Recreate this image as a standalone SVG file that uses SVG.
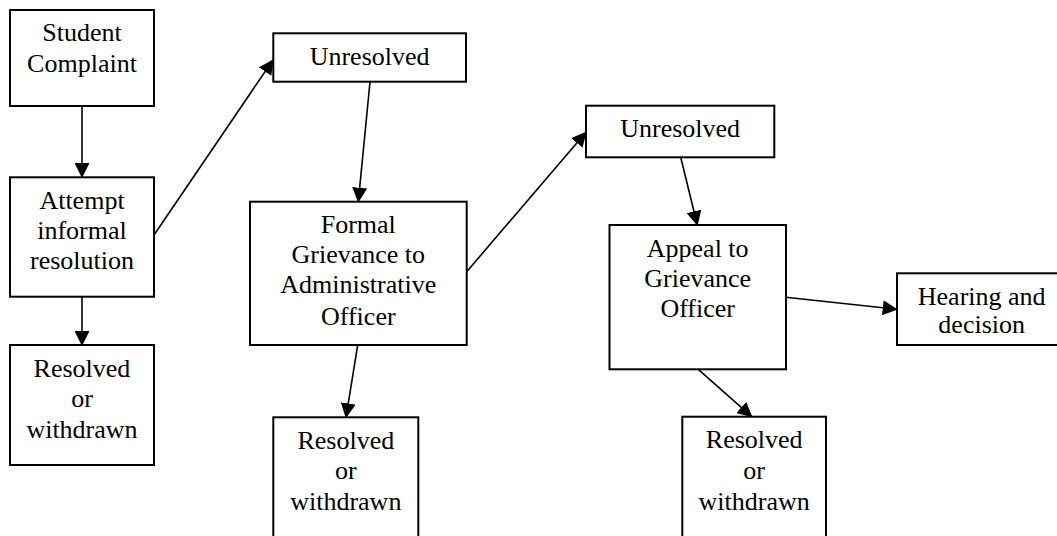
<svg xmlns="http://www.w3.org/2000/svg" width="1057" height="536" viewBox="0 0 1057 536">
<style>
.box{fill:#fff;stroke:#000;stroke-width:2}
.t{font-family:"Liberation Serif","Times New Roman",serif;font-size:26px;fill:#000;text-anchor:middle}
.c{stroke:#000;stroke-width:1.6;fill:none;marker-end:url(#ah)}
</style>
<defs>
<marker id="ah" markerUnits="userSpaceOnUse" markerWidth="15" markerHeight="15" refX="14" refY="7.5" orient="auto">
<path d="M0,0 L15,7.5 L0,15 z" fill="#000"/>
</marker>
</defs>
<rect width="1057" height="536" fill="#fff"/>
<g id="connectors">
<line class="c" x1="82" y1="106" x2="82" y2="177"/>
<line class="c" x1="82" y1="297" x2="82" y2="345"/>
<line class="c" x1="154" y1="235" x2="273" y2="60"/>
<line class="c" x1="370" y1="82" x2="358.3" y2="201.7"/>
<line class="c" x1="466.7" y1="271.7" x2="586" y2="132.3"/>
<line class="c" x1="680.7" y1="157.3" x2="697.3" y2="225"/>
<line class="c" x1="785.7" y1="297.3" x2="896.7" y2="309.3"/>
<line class="c" x1="698.3" y1="369.3" x2="751.7" y2="416.7"/>
<line class="c" x1="357.7" y1="345" x2="346" y2="417.3"/>
</g>
<g id="student-complaint">
<rect class="box" x="10" y="10" width="144" height="96"/>
<text class="t" x="82" y="40.7">Student</text>
<text class="t" x="82" y="71.7">Complaint</text>
</g>
<g id="attempt-informal">
<rect class="box" x="10" y="177.3" width="144" height="119.4"/>
<text class="t" x="82" y="209.3">Attempt</text>
<text class="t" x="82" y="239">informal</text>
<text class="t" x="82" y="269.3">resolution</text>
</g>
<g id="resolved-1">
<rect class="box" x="10" y="345" width="144" height="120"/>
<text class="t" x="82" y="376.7">Resolved</text>
<text class="t" x="82" y="407">or</text>
<text class="t" x="82" y="438">withdrawn</text>
</g>
<g id="unresolved-1">
<rect class="box" x="273.3" y="33.3" width="192.7" height="48.4"/>
<text class="t" x="369.6" y="65">Unresolved</text>
</g>
<g id="formal-grievance">
<rect class="box" x="250" y="201.7" width="216.7" height="143.3"/>
<text class="t" x="358.3" y="233.3">Formal</text>
<text class="t" x="358.3" y="262.7">Grievance to</text>
<text class="t" x="358.3" y="293.3">Administrative</text>
<text class="t" x="358.3" y="325">Officer</text>
</g>
<g id="resolved-2">
<rect class="box" x="273.3" y="417.3" width="145" height="150"/>
<text class="t" x="345.8" y="449">Resolved</text>
<text class="t" x="345.8" y="479">or</text>
<text class="t" x="345.8" y="510">withdrawn</text>
</g>
<g id="unresolved-2">
<rect class="box" x="586" y="105.7" width="188.3" height="51.6"/>
<text class="t" x="680.2" y="136.7">Unresolved</text>
</g>
<g id="appeal">
<rect class="box" x="609.5" y="225" width="176.5" height="144.3"/>
<text class="t" x="697.7" y="256.7">Appeal to</text>
<text class="t" x="697.7" y="286.7">Grievance</text>
<text class="t" x="697.7" y="316.7">Officer</text>
</g>
<g id="hearing">
<rect class="box" x="897" y="273.3" width="169" height="71.7"/>
<text class="t" x="981.7" y="304.5">Hearing and</text>
<text class="t" x="981.7" y="332.7">decision</text>
</g>
<g id="resolved-3">
<rect class="box" x="682.3" y="416.7" width="143.7" height="150"/>
<text class="t" x="754.2" y="448.3">Resolved</text>
<text class="t" x="754.2" y="479.3">or</text>
<text class="t" x="754.2" y="510">withdrawn</text>
</g>
</svg>
